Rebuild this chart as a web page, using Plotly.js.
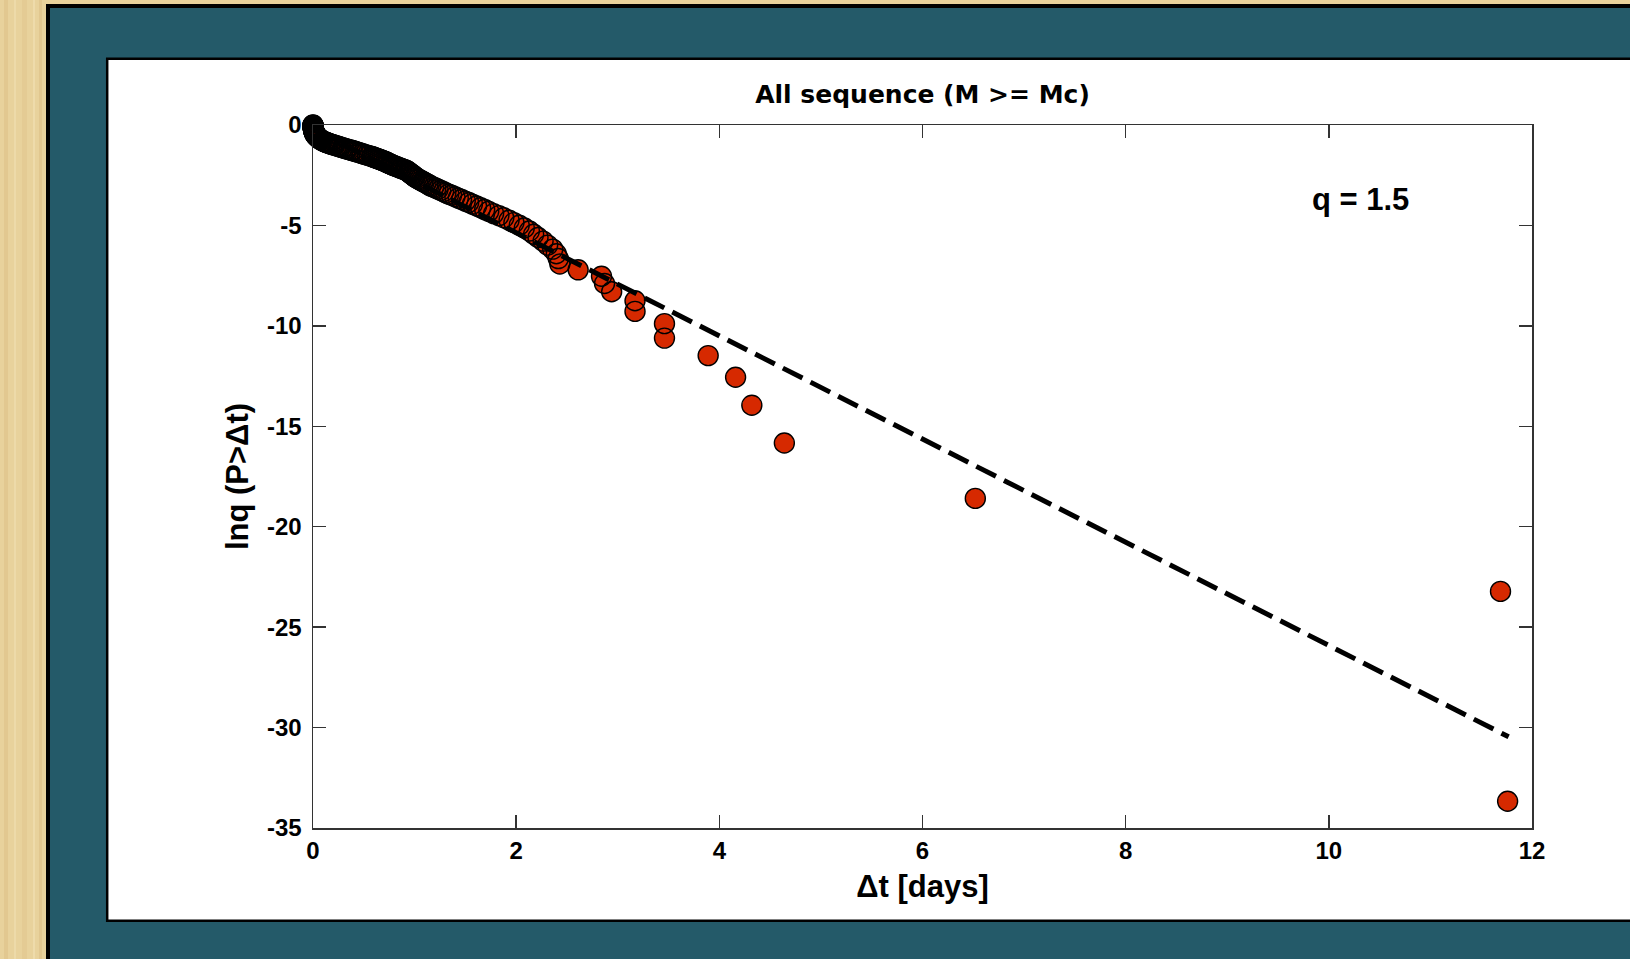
<!DOCTYPE html>
<html>
<head>
<meta charset="utf-8">
<script src="https://cdn.plot.ly/plotly-3.0.1.min.js"></script>
<style>
html,body{margin:0;padding:0;background:#e8d29c;}
#chart{width:1630px;height:959px;}
</style>
</head>
<body>
<div id="chart"></div>
<script>
// Inter-event times Δt [days] (sorted)
const dt = [
0.000,0.000,0.000,0.000,0.001,0.001,0.001,0.001,0.002,0.002,
0.002,0.003,0.003,0.004,0.004,0.005,0.005,0.006,0.007,0.008,
0.009,0.010,0.011,0.012,0.014,0.016,0.018,0.020,0.023,0.026,
0.030,0.034,0.038,0.044,0.050,0.057,0.064,0.072,0.082,0.095,
0.108,0.116,0.125,0.132,0.142,0.153,0.164,0.176,0.188,0.200,
0.214,0.232,0.246,0.259,0.272,0.291,0.305,0.324,0.338,0.358,
0.378,0.392,0.412,0.430,0.450,0.470,0.488,0.508,0.533,0.552,
0.578,0.583,0.594,0.605,0.616,0.627,0.638,0.648,0.659,0.670,
0.680,0.690,0.700,0.711,0.722,0.730,0.738,0.747,0.760,0.770,
0.780,0.790,0.806,0.816,0.832,0.847,0.863,0.873,0.889,0.904,
0.920,0.927,0.938,0.946,0.954,0.962,0.972,0.980,0.991,1.002,
1.005,1.019,1.034,1.048,1.066,1.080,1.094,1.112,1.130,1.144,
1.160,1.187,1.209,1.231,1.258,1.285,1.308,1.336,1.364,1.397,
1.430,1.462,1.499,1.532,1.569,1.610,1.650,1.690,1.730,1.778,
1.830,1.878,1.930,1.978,2.030,2.080,2.130,2.172,2.215,2.265,
2.310,2.360,2.395,2.415,2.430,2.610,2.840,2.870,2.940,3.170,
3.170,3.460,3.460,3.890,4.160,4.320,4.640,6.520,11.690,11.760
];
// lnq (P > Δt) values
const lnqP = [
0.00,-0.01,-0.02,-0.03,-0.05,-0.06,-0.07,-0.09,-0.10,-0.12,
-0.13,-0.15,-0.16,-0.18,-0.20,-0.21,-0.23,-0.25,-0.26,-0.28,
-0.30,-0.32,-0.34,-0.36,-0.38,-0.40,-0.43,-0.45,-0.47,-0.50,
-0.52,-0.55,-0.57,-0.60,-0.63,-0.66,-0.69,-0.72,-0.75,-0.79,
-0.82,-0.84,-0.86,-0.87,-0.89,-0.91,-0.93,-0.95,-0.97,-0.99,
-1.01,-1.04,-1.06,-1.08,-1.10,-1.13,-1.15,-1.18,-1.20,-1.23,
-1.26,-1.28,-1.31,-1.34,-1.37,-1.40,-1.43,-1.46,-1.50,-1.53,
-1.57,-1.58,-1.60,-1.62,-1.64,-1.66,-1.68,-1.70,-1.72,-1.74,
-1.76,-1.78,-1.80,-1.82,-1.85,-1.87,-1.89,-1.91,-1.94,-1.96,
-1.99,-2.01,-2.04,-2.06,-2.09,-2.12,-2.15,-2.17,-2.20,-2.23,
-2.26,-2.29,-2.33,-2.36,-2.39,-2.42,-2.46,-2.49,-2.53,-2.57,
-2.60,-2.64,-2.68,-2.72,-2.77,-2.81,-2.85,-2.90,-2.95,-2.99,
-3.04,-3.10,-3.15,-3.20,-3.26,-3.32,-3.38,-3.44,-3.50,-3.57,
-3.64,-3.71,-3.79,-3.86,-3.94,-4.03,-4.12,-4.21,-4.30,-4.41,
-4.51,-4.62,-4.74,-4.86,-4.99,-5.13,-5.28,-5.44,-5.60,-5.78,
-5.98,-6.18,-6.41,-6.65,-6.92,-7.21,-7.53,-7.89,-8.30,-8.75,
-9.28,-9.89,-10.61,-11.48,-12.56,-13.95,-15.83,-18.59,-23.22,-33.67
];
// q-exponential fit line (dashed)
const fitDt = [0, 11.77];
const fitLnq = [-0.22, -30.46];

const xTicks = [0, 2, 4, 6, 8, 10, 12];
const xTickText = ['0', '2', '4', '6', '8', '10', '12'];
const yTicks = [0, -5, -10, -15, -20, -25, -30, -35];
const yTickText = ['0', '-5', '-10', '-15', '-20', '-25', '-30', '-35'];

const chartTitle = 'All sequence (M >= Mc)';
const xTitle = 'Δt [days]';
const yTitle = 'lnq (P>Δt)';
const qLabel = 'q = 1.5';

const RED = '#d62900';
const AXIS = '#333333';
const tickFont = {family: 'Liberation Sans Narrow, Liberation Sans, Arial, sans-serif', size: 24, color: '#000', weight: 700};
const axTitleFont = {family: 'Liberation Sans, Arial, sans-serif', size: 31, color: '#000', weight: 700};

const traces = [
  {x: dt, y: lnqP, type: 'scatter', mode: 'markers', hoverinfo: 'skip', cliponaxis: false,
   marker: {symbol: 'circle', size: 20, color: RED, line: {width: 0}}},
  {x: dt, y: lnqP, type: 'scatter', mode: 'markers', hoverinfo: 'skip', cliponaxis: false,
   marker: {symbol: 'circle-open', size: 20, color: '#000', line: {width: 1.4, color: '#000'}}},
  {x: fitDt, y: fitLnq, type: 'scatter', mode: 'lines', hoverinfo: 'skip',
   line: {color: '#000', width: 5, dash: '22px,9px'}}
];

// decorative frame (paper units; plot area spans x 313..1532 px, y 125..828 px)
const woodStripes = [[4, 8, '#e2c890'], [14, 16, '#eddaa9'], [22, 27, '#e4cb94'], [33, 35, '#eedbab'], [39, 42, '#e1c78f']];
const shapes = woodStripes.map(s => ({
  type: 'rect', xref: 'paper', yref: 'paper', layer: 'below',
  x0: (s[0] - 313) / 1219, x1: (s[1] - 313) / 1219, y0: -0.3, y1: 1.3,
  fillcolor: s[2], line: {width: 0}
}));
shapes.push(
  {type: 'rect', xref: 'paper', yref: 'paper', layer: 'below',
   x0: -0.21739, x1: 1.3, y0: -0.2447, y1: 1.16927,
   fillcolor: '#245a69', line: {color: '#000', width: 4}},
  {type: 'rect', xref: 'paper', yref: 'paper', layer: 'below',
   x0: -0.16883, x1: 1.3, y0: -0.13186, y1: 1.09417,
   fillcolor: '#ffffff', line: {color: '#000', width: 2.5}}
);

const layout = {
  width: 1630, height: 959,
  paper_bgcolor: '#e8d29c',
  plot_bgcolor: '#ffffff',
  showlegend: false,
  margin: {l: 313, r: 98, t: 125, b: 131, pad: 0},
  title: {text: chartTitle, x: 0.5, xref: 'paper', xanchor: 'center',
          y: 1 - 94 / 959, yref: 'container', yanchor: 'middle',
          font: {family: 'DejaVu Sans, sans-serif', size: 25, color: '#000', weight: 700}},
  xaxis: {range: [0, 12], tickvals: xTicks, ticktext: xTickText, ticks: 'inside', ticklen: 13,
          tickwidth: 1.5, tickcolor: AXIS, showline: true, linecolor: AXIS, linewidth: 1.5,
          mirror: 'ticks', showgrid: false, zeroline: false, tickfont: tickFont,
          ticklabelstandoff: 1, automargin: false,
          title: {text: xTitle, font: axTitleFont, standoff: 12}},
  yaxis: {range: [-35, 0], tickvals: yTicks, ticktext: yTickText, ticks: 'inside', ticklen: 13,
          tickwidth: 1.5, tickcolor: AXIS, showline: true, linecolor: AXIS, linewidth: 1.5,
          mirror: 'ticks', showgrid: false, zeroline: false, tickfont: tickFont,
          ticklabelstandoff: 5, automargin: false,
          title: {text: yTitle, font: axTitleFont, standoff: 9}},
  shapes: shapes,
  annotations: [
    {text: qLabel, x: 10.31, y: -3.7, xref: 'x', yref: 'y', showarrow: false,
     xanchor: 'center', yanchor: 'middle',
     font: {family: 'Liberation Sans, Arial, sans-serif', size: 31, color: '#000', weight: 700}}
  ]
};

Plotly.newPlot('chart', traces, layout, {displayModeBar: false, staticPlot: true});
</script>
</body>
</html>
